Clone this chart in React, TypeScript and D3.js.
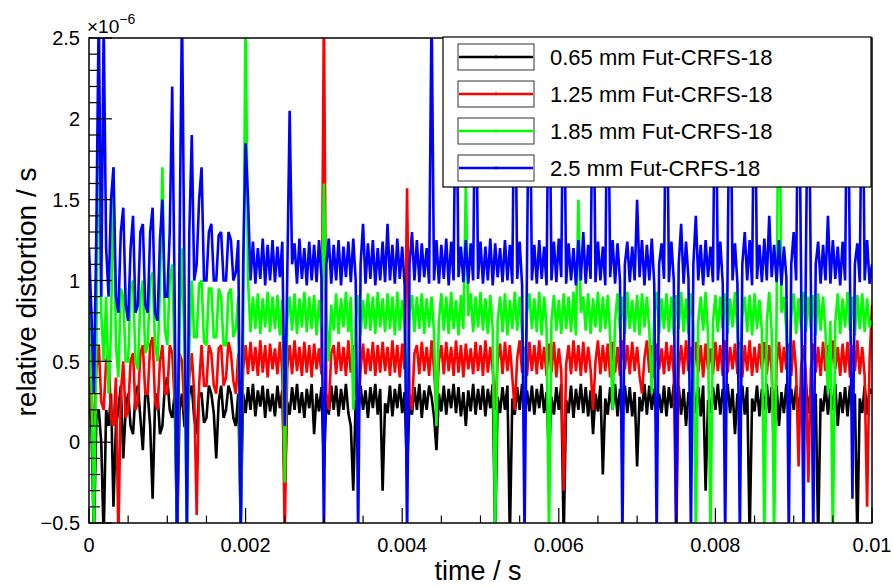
import React, { useEffect, useRef } from "react";
import * as d3 from "d3";

const W = 893;
const H = 587;
const FONT = "'Liberation Sans', Arial, Helvetica, sans-serif";

// sampling step of the time axis (s); values below are in units of 1e-6
const T_STEP = 0.00003125;

const seriesNames = [
  "0.65 mm Fut-CRFS-18",
  "1.25 mm Fut-CRFS-18",
  "1.85 mm Fut-CRFS-18",
  "2.5 mm Fut-CRFS-18",
];
const seriesColors = ["#000000", "#ff0000", "#00ff00", "#0000ff"];

const black = [
  0.3, 0.1, -0.6, 0.15, 0.2, 0.0, -0.6, 0.2, 0.1, 0.3, -0.4, 0.1, 0.2, 0.35, -0.1, 0.2, 0.3, 0.1, 0.05, 0.3,
  0.35, 0.15, -0.05, 0.3, 0.3, 0.1, -0.35, 0.25, 0.3, 0.05, 0.1, 0.35, 0.4, 0.2, 0.15, 0.3, -0.6, 0.2, 0.3, 0.1,
  0.1, 0.3, 0.35, 0.15, 0.05, 0.3, 0.3, 0.12, 0.15, 0.35, 0.3, 0.18, -0.1, 0.25, 0.35, 0.15, 0.2, 0.35, 0.3, 0.15,
  0.1, 0.3, -0.5, 0.3, 0.18, 0.34, 0.2, 0.36, 0.16, 0.32, 0.22, 0.35, 0.15, 0.33, 0.19, 0.3, 0.16, 0.35, 0.21, 0.32,
  -0.3, 0.25, 0.17, 0.34, 0.2, 0.36, 0.18, 0.31, 0.15, 0.33, 0.21, 0.36, 0.05, 0.3, 0.19, 0.34, -0.15, 0.28, 0.17, 0.35,
  0.2, 0.35, 0.16, 0.33, 0.2, 0.36, 0.18, 0.1, -0.3, 0.26, 0.18, 0.35, 0.2, 0.32, 0.15, 0.34, 0.21, 0.36, 0.17, 0.33,
  -0.3, 0.24, 0.18, 0.35, 0.16, 0.33, 0.21, 0.36, 0.18, 0.31, -0.2, 0.27, 0.17, 0.34, 0.2, 0.36, 0.15, 0.32, 0.2, 0.35,
  0.28, 0.16, -0.05, 0.3, 0.19, 0.35, 0.17, 0.33, 0.21, 0.36, 0.18, 0.34, 0.16, 0.31, 0.1, 0.32, 0.19, 0.36, 0.17, 0.33,
  0.2, 0.35, 0.16, 0.33, 0.21, 0.36, -0.6, 0.28, 0.18, 0.34, 0.2, 0.35, -0.6, 0.27, 0.17, 0.34, 0.2, 0.36, 0.16, 0.32,
  0.19, 0.35, 0.17, 0.33, 0.21, 0.36, 0.18, 0.31, -0.1, 0.28, 0.17, 0.34, 0.2, 0.36, -0.6, 0.26, 0.18, 0.35, 0.15, 0.33,
  0.2, 0.36, 0.18, 0.34, 0.16, 0.32, 0.05, 0.3, 0.19, 0.35, -0.2, 0.27, 0.17, 0.34, 0.2, 0.36, 0.16, 0.33, 0.21, 0.35,
  0.18, 0.34, 0.16, 0.31, -0.15, 0.28, 0.19, 0.36, 0.17, 0.35, 0.2, 0.33, 0.1, 0.3, 0.18, 0.35, 0.16, 0.34, 0.21, 0.36,
  0.19, 0.35, 0.17, 0.33, 0.1, 0.31, 0.2, 0.36, 0.18, 0.34, 0.16, 0.35, -0.3, 0.26, 0.18, 0.34, 0.2, 0.36, 0.17, 0.33,
  0.2, 0.36, 0.18, 0.33, 0.05, 0.3, 0.19, 0.35, 0.17, 0.34, -0.6, 0.27, 0.19, 0.35, 0.16, 0.33, 0.2, 0.36, 0.18, 0.34,
  0.19, 0.35, 0.1, 0.31, 0.18, 0.36, 0.16, 0.33, 0.2, 0.35, 0.17, 0.34, 0.21, 0.36, 0.18, 0.33, 0.16, 0.3, -0.6, 0.27,
  0.19, 0.35, 0.17, 0.33, 0.2, 0.36, 0.1, 0.31, 0.18, 0.34, 0.16, 0.35, 0.2, 0.3, -0.6, 0.27, 0.18, 0.35, 0.17, 0.33,
  0.3,
];

const red = [
  0.4, 0.2, 0.1, 0.45, 0.6, 0.25, 0.2, 0.5, 0.55, 0.15, 0.1, 0.4, -0.6, 0.3, 0.5, 0.15, 0.2, 0.5, 0.55, 0.2,
  0.25, 0.55, 0.6, 0.3, 0.3, 0.6, 0.65, 0.25, 0.2, 0.5, 0.6, 0.3, 0.3, 0.6, 0.55, 0.25, 0.2, 0.55, 0.5, 0.2,
  0.1, 0.4, 0.55, 0.3, -0.45, 0.35, 0.6, 0.35, 0.35, 0.6, 0.55, 0.35, 0.3, 0.58, 0.6, 0.35, 0.4, 0.62, 0.55, 0.38,
  0.3, 0.55, 0.0, 0.45, 0.6, 0.42, 0.62, 0.44, 0.59, 0.41, 0.63, 0.43, 0.6, 0.4, 0.61, 0.45, 0.58, 0.42, 0.62, 0.44,
  -0.6, 0.45, 0.6, 0.42, 0.63, 0.44, 0.59, 0.41, 0.62, 0.43, 0.6, 0.4, 0.61, 0.45, 0.58, 0.42, 2.7, 0.3, 0.2, 0.55,
  0.6, 0.42, 0.62, 0.44, 0.59, 0.41, 0.63, 0.43, 0.6, 0.4, 0.1, 0.45, 0.61, 0.42, 0.58, 0.44, 0.62, 0.41, 0.6, 0.43,
  0.62, 0.44, 0.59, 0.41, 0.63, 0.43, 0.6, 0.4, 0.61, 0.45, 1.57, 0.3, 0.2, 0.55, 0.6, 0.42, 0.62, 0.44, 0.59, 0.41,
  0.63, 0.45, 0.2, 0.5, 0.6, 0.42, 0.62, 0.44, 0.59, 0.41, 0.63, 0.43, 0.6, 0.4, 0.61, 0.45, 0.58, 0.42, 0.62, 0.44,
  0.6, 0.41, 0.63, 0.43, 0.59, 0.45, 0.2, 0.5, 0.61, 0.42, 0.62, 0.44, 0.6, 0.4, 0.2, 0.52, 0.63, 0.43, 0.59, 0.41,
  0.62, 0.44, 0.6, 0.42, 0.63, 0.45, 0.59, 0.41, 0.61, 0.43, 0.62, 0.4, 0.58, 0.44, -0.3, 0.48, 0.6, 0.42, 0.63, 0.44,
  0.6, 0.41, 0.62, 0.43, 0.59, 0.45, 0.2, 0.5, 0.63, 0.42, 0.6, 0.44, 0.61, 0.4, 0.62, 0.43, 0.59, 0.41, 0.63, 0.45,
  0.6, 0.42, 0.62, 0.44, 0.59, 0.41, 0.3, 0.52, 0.63, 0.43, 0.6, 0.4, 0.61, 0.45, 0.58, 0.42, 0.62, 0.44, 0.6, 0.41,
  -0.6, 0.45, 0.6, 0.42, 0.63, 0.44, 0.59, 0.41, 0.62, 0.43, 0.6, 0.4, 0.61, 0.45, 0.58, 0.42, 0.62, 0.44, 0.6, 0.41,
  0.63, 0.43, 0.59, 0.45, 0.61, 0.42, 0.62, 0.4, 0.6, 0.44, 0.63, 0.41, 0.59, 0.43, 0.61, 0.45, 0.62, 0.42, 0.6, 0.44,
  -0.15, 0.48, 0.62, 0.43, 0.59, 0.45, 0.61, 0.41, 0.63, 0.44, -0.15, 0.46, 0.6, 0.42, -0.25, 0.45, 0.61, 0.43, 0.59, 0.41,
  0.62, 0.44, 0.6, 0.42, 0.63, 0.45, 0.59, 0.41, 0.61, 0.43, 0.62, 0.4, 0.6, 0.44, 0.63, 0.42, 0.59, 0.41, -0.4, 0.5,
  0.85,
];

const green = [
  0.9, 0.4, -0.6, 0.6, 2.1, 0.8, 0.5, 0.9, 0.3, 0.7, 1.7, 0.6, 0.4, 0.95, 0.9, 0.5, 0.5, 0.95, 1.0, 0.5,
  0.45, 0.9, 1.0, 0.55, 0.6, 1.0, 1.05, 0.6, 0.5, 0.95, 1.7, 0.7, 0.6, 1.0, 1.1, 0.5, -0.6, 0.7, 1.2, 0.6,
  -0.6, 0.6, 1.0, 0.65, 0.65, 0.98, 1.0, 0.62, 0.6, 0.95, 0.95, 0.65, 0.65, 0.95, 0.9, 0.6, 0.6, 0.92, 0.95, 0.65,
  0.7, 0.9, -0.6, 0.72, 2.7, 1.0, 0.68, 0.9, 0.7, 0.92, 0.67, 0.89, 0.71, 0.93, 0.68, 0.9, 0.7, 0.91, 0.66, 0.88,
  -0.25, 0.75, 0.9, 0.69, 0.92, 0.67, 0.89, 0.71, 0.93, 0.68, 0.9, 0.7, 0.91, 0.66, 0.88, 0.7, 1.6, 0.8, 0.5, 0.85,
  0.69, 0.92, 0.67, 0.89, 0.71, 0.93, 0.68, 0.9, 0.2, 0.75, 0.91, 0.66, 0.88, 0.7, 0.92, 0.69, 0.9, 0.67, 0.93, 0.71,
  0.89, 0.68, 0.92, 0.7, 0.9, 0.66, 0.93, 0.69, 0.88, 0.71, 0.3, 0.8, 0.91, 0.68, 0.9, 0.7, 0.92, 0.67, 0.89, 0.71,
  0.9, 0.68, 0.1, 0.75, 0.92, 0.69, 0.9, 0.67, 0.93, 0.7, 0.88, 0.66, 0.91, 0.7, 1.6, 0.78, 0.92, 0.68, 0.9, 0.71,
  0.93, 0.69, 0.89, 0.67, 0.91, 0.7, -0.6, 0.75, 0.9, 0.68, 0.92, 0.66, 0.88, 0.7, 0.93, 0.69, 0.9, 0.67, 0.3, 0.8,
  0.92, 0.7, 0.89, 0.68, 0.93, 0.66, 0.9, 0.71, -0.6, 0.75, 0.91, 0.69, 0.88, 0.67, 0.92, 0.7, 0.9, 0.68, 0.93, 0.66,
  1.5, 0.8, 0.9, 0.69, 0.92, 0.67, 0.89, 0.71, 0.93, 0.68, 0.9, 0.7, 0.91, 0.66, 0.2, 0.75, 0.92, 0.69, 0.9, 0.67,
  0.93, 0.7, 0.88, 0.68, 0.91, 0.66, 0.92, 0.71, 0.9, 0.69, 0.3, 0.78, 0.93, 0.67, 0.89, 0.7, 0.92, 0.68, 0.9, 0.66,
  0.91, 0.7, 0.93, 0.68, 0.89, 0.67, 0.92, 0.71, -0.6, 0.75, 0.9, 0.69, 0.93, 0.66, -0.6, 0.74, 0.91, 0.68, 0.9, 0.7,
  0.92, 0.67, 0.89, 0.71, 0.93, 0.69, 0.4, 0.78, 0.9, 0.68, 0.91, 0.66, 0.92, 0.7, 0.88, 0.69, -0.6, 0.74, 0.93, 0.68,
  -0.6, 0.8, 2.6, 0.8, 0.9, 0.69, 0.3, 0.78, 0.92, 0.67, 0.89, 0.71, 0.93, 0.68, 0.9, 0.7, 0.91, 0.66, 0.92, 0.69,
  0.9, 0.68, 0.3, 0.75, -0.6, 0.74, 0.92, 0.67, 0.89, 0.71, 0.93, 0.69, 0.9, 0.66, 0.91, 0.7, 0.92, 0.68, 0.89, 0.71,
  0.75,
];

const blue = [
  1.2, 0.8, 0.3, 1.3, 2.7, 0.9, 2.6, 1.2, 0.9, 1.5, 1.7, 0.9, 0.8, 1.3, 1.45, 0.85, 0.75, 1.2, 1.4, 0.8,
  0.85, 1.3, 1.35, 0.85, 0.8, 1.3, 1.45, 0.8, 0.75, 1.25, 1.5, 0.9, 0.9, 1.3, 2.2, 0.9, -0.7, 1.2, 2.7, 1.0,
  -0.6, 1.3, 1.9, 1.0, 1.1, 1.5, 1.7, 1.0, 1.0, 1.3, 1.35, 1.0, 1.0, 1.28, 1.3, 1.0, 1.0, 1.3, 1.25, 1.0,
  1.05, 1.25, -0.6, 1.1, 1.85, 1.5, 1.0, 1.24, 0.98, 1.2, 1.01, 1.26, 0.97, 1.22, 1.0, 1.25, 0.99, 1.21, 1.02, 1.24,
  0.1, 1.0, 2.05, 1.1, 1.23, 0.98, 1.26, 1.01, 1.2, 0.97, 1.24, 1.0, 1.22, 0.99, 1.25, 1.02, -0.6, 1.1, 1.26, 0.98,
  1.22, 1.0, 1.25, 0.97, 1.21, 1.02, 1.24, 0.99, 1.26, 1.0, -0.6, 1.1, 1.35, 0.98, 1.23, 1.01, 1.25, 0.97, 1.2, 1.0,
  1.24, 0.99, 1.35, 1.0, 1.22, 0.98, 1.26, 1.01, 1.21, 0.97, -0.6, 1.1, 1.3, 1.0, 1.25, 0.99, 1.23, 1.02, 1.2, 0.98,
  2.7, 1.0, 1.25, 0.98, 1.22, 1.01, 1.26, 0.97, 1.24, 1.0, 2.6, 1.02, 1.21, 0.99, 1.25, 0.98, 1.23, 1.0, 2.6, 1.01,
  1.24, 0.98, 1.21, 1.0, 1.26, 0.97, 1.23, 1.02, 1.2, 0.99, 1.25, 1.0, 1.22, 0.98, 2.6, 1.01, 1.24, 0.97, -0.6, 1.1,
  2.6, 1.0, 1.22, 0.98, 1.25, 1.01, 1.21, 0.97, 2.6, 1.0, 1.24, 0.99, 1.26, 1.02, 2.6, 0.98, 1.23, 1.0, 1.2, 0.97,
  1.25, 1.0, 1.3, 0.98, 1.22, 1.01, 2.6, 0.99, 1.24, 1.0, 1.21, 0.97, 2.6, 1.02, 1.25, 0.98, 1.23, 1.0, -0.6, 1.1,
  1.24, 0.99, 1.21, 1.0, 1.5, 1.02, 1.25, 0.97, 1.22, 1.0, 1.26, 0.98, -0.6, 1.1, 1.23, 1.01, 2.6, 0.99, 1.24, 1.0,
  -0.6, 1.1, 1.35, 0.98, 1.24, 1.01, -0.6, 1.1, 1.4, 1.0, 1.22, 0.97, 1.25, 1.02, 1.21, 0.99, 2.6, 1.0, 1.24, 0.98,
  -0.6, 1.1, 2.6, 1.0, 1.23, 0.98, -0.6, 1.1, 1.3, 1.0, 1.25, 0.97, 2.6, 1.01, 1.22, 0.99, 1.26, 1.0, 1.4, 1.02,
  1.22, 0.99, 1.25, 0.97, 1.21, 1.02, -0.6, 1.1, 1.3, 1.0, 2.6, 1.05, -0.6, 1.15, 2.6, 1.0, -0.6, 1.1, 1.24, 0.98,
  1.22, 1.0, 1.4, 0.98, 1.25, 1.01, 1.21, 0.97, 1.24, 1.0, 2.6, 1.02, -0.35, 1.1, 1.23, 0.99, 2.6, 1.0, 1.25, 0.98,
  1.1,
];

const seriesValues = [black, red, green, blue];

const xTicks = [0, 0.002, 0.004, 0.006, 0.008, 0.01];
const xTickLabels = ["0", "0.002", "0.004", "0.006", "0.008", "0.01"];
const yTicks = [-0.5, 0, 0.5, 1, 1.5, 2, 2.5];
const yTickLabels = ["\u22120.5", "0", "0.5", "1", "1.5", "2", "2.5"];

export default function App() {
  const ref = useRef<SVGSVGElement>(null);

  useEffect(() => {
    const svg = d3.select(ref.current);
    svg.selectAll("*").remove();

    const left = 89, right = 872, top = 38, bottom = 523;
    const x = d3.scaleLinear().domain([0, 0.01]).range([left, right]);
    const y = d3.scaleLinear().domain([-0.5, 2.5]).range([bottom, top]);

    svg.append("rect").attr("width", W).attr("height", H).attr("fill", "#fff");

    svg.append("defs").append("clipPath").attr("id", "plotclip")
      .append("rect")
      .attr("x", left).attr("y", top)
      .attr("width", right - left).attr("height", bottom - top);

    const line = d3.line<number>()
      .x((d, i) => x(i * T_STEP))
      .y(d => y(d));

    const plot = svg.append("g").attr("clip-path", "url(#plotclip)");
    seriesValues.forEach((vals, k) => {
      plot.append("path")
        .attr("d", line(vals))
        .attr("fill", "none")
        .attr("stroke", seriesColors[k])
        .attr("stroke-width", 2.6)
        .attr("stroke-linejoin", "miter")
        .attr("stroke-miterlimit", 2);
    });

    // frame
    svg.append("rect")
      .attr("x", left).attr("y", top)
      .attr("width", right - left).attr("height", bottom - top)
      .attr("fill", "none").attr("stroke", "#000").attr("stroke-width", 1.5);

    // y ticks
    const yMinor = d3.range(-0.5, 2.5001, 0.1);
    svg.append("g").selectAll("line")
      .data(yMinor)
      .join("line")
      .attr("x1", left).attr("x2", (d) => left + (Math.abs(Math.round(d * 10) % 5) === 0 ? 23 : 11))
      .attr("y1", d => y(d)).attr("y2", d => y(d))
      .attr("stroke", "#000").attr("stroke-width", 1.2);

    svg.append("g").selectAll("text")
      .data(yTicks)
      .join("text")
      .attr("x", 80)
      .attr("y", d => y(d))
      .attr("dy", "0.36em")
      .attr("text-anchor", "end")
      .attr("font-family", FONT)
      .attr("font-size", 20)
      .text((d, i) => yTickLabels[i]);

    // x ticks
    const xMinor = d3.range(0, 0.01001, 0.0005);
    svg.append("g").selectAll("line")
      .data(xMinor)
      .join("line")
      .attr("x1", d => x(d)).attr("x2", d => x(d))
      .attr("y1", bottom)
      .attr("y2", (d, i) => bottom - (i % 4 === 0 ? 15 : 7.5))
      .attr("stroke", "#000").attr("stroke-width", 1.2);

    svg.append("g").selectAll("text")
      .data(xTicks)
      .join("text")
      .attr("x", d => x(d))
      .attr("y", 552)
      .attr("text-anchor", "middle")
      .attr("font-family", FONT)
      .attr("font-size", 20)
      .text((d, i) => xTickLabels[i]);

    // exponent label
    const ex = svg.append("text")
      .attr("x", 87).attr("y", 33)
      .attr("font-family", FONT)
      .attr("font-size", 19);
    ex.append("tspan").text("\u00d710");
    ex.append("tspan").attr("dy", -9).attr("font-size", 14).text("\u22126");

    // axis titles
    svg.append("text")
      .attr("x", 478).attr("y", 580)
      .attr("text-anchor", "middle")
      .attr("font-family", FONT)
      .attr("font-size", 27)
      .text("time / s");

    svg.append("text")
      .attr("transform", "translate(36, 292) rotate(-90)")
      .attr("text-anchor", "middle")
      .attr("font-family", FONT)
      .attr("font-size", 28)
      .text("relative distortion / s");

    // legend
    const lg = svg.append("g");
    lg.append("rect")
      .attr("x", 443).attr("y", 37)
      .attr("width", 428).attr("height", 150)
      .attr("fill", "#fff").attr("stroke", "#000").attr("stroke-width", 1.2);

    seriesNames.forEach((name, k) => {
      const cy = 57 + k * 37;
      lg.append("rect")
        .attr("x", 458).attr("y", cy - 13)
        .attr("width", 76).attr("height", 26)
        .attr("fill", "#fff").attr("stroke", "#333").attr("stroke-width", 1);
      lg.append("line")
        .attr("x1", 459).attr("x2", 533)
        .attr("y1", cy).attr("y2", cy)
        .attr("stroke", seriesColors[k]).attr("stroke-width", 2.6);
      lg.append("circle")
        .attr("cx", 496).attr("cy", cy).attr("r", 1.4)
        .attr("fill", seriesColors[k]);
      lg.append("text")
        .attr("x", 550).attr("y", cy)
        .attr("dy", "0.36em")
        .attr("font-family", FONT)
        .attr("font-size", 22)
        .text(name);
    });
  }, []);

  return (
    <svg
      ref={ref}
      width={W}
      height={H}
      style={{ position: "absolute", left: 0, top: 0, display: "block" }}
    />
  );
}
